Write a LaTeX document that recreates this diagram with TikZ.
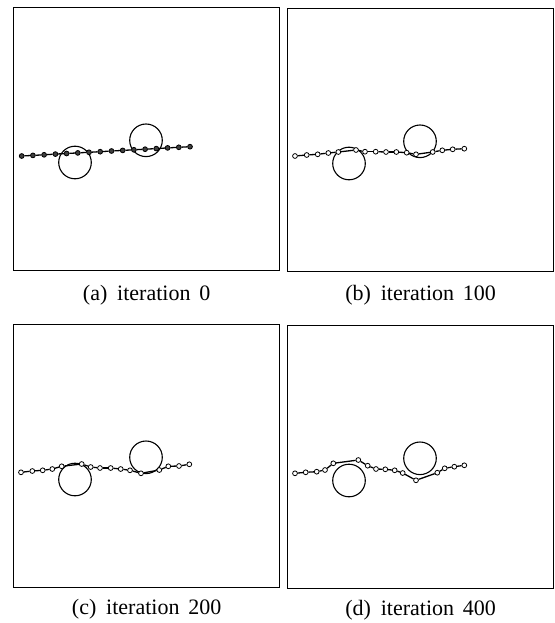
\documentclass[tikz,border=0pt]{standalone}
\usepackage{fontspec}
\setmainfont{Liberation Serif}
\usetikzlibrary{positioning}

\tikzset{
	panel/.style={draw, line width=1.3pt, minimum width=266pt, minimum height=263pt, inner sep=0pt, anchor=north west},
	obstacle/.style={circle, draw, line width=1.1pt, minimum size=32.6pt, inner sep=0pt},
	bead/.style={circle, draw, fill=white, line width=0.8pt, minimum size=4.8pt, inner sep=0pt},
	chain/.style={line width=1.3pt},
	caption/.style={font=\fontsize{22}{24}\selectfont, inner sep=0pt}
}

\begin{document}
\begin{tikzpicture}[x=1pt, y=-1pt]
	\useasboundingbox (0,0) rectangle (554,623);
	% (a) iteration 0
	\begin{scope}[shift={(13,7)}]
		\node[panel] (fa) at (0,0) {};
		\node[obstacle] (a-c1) at (62,155.5) {};
		\node[obstacle] (a-c2) at (133,133.3) {};
		\foreach \x/\y [count=\i] in {8.7/149, 19.9/148.4, 31.1/147.8, 42.4/147.1, 53.6/146.5, 64.8/145.9, 76.0/145.3, 87.2/144.7, 98.5/144.0, 109.7/143.4, 120.9/142.8, 132.1/142.2, 143.3/141.6, 154.6/140.9, 165.8/140.3, 177.0/139.7}
			\node[bead, fill=black!75] (a\i) at (\x,\y) {};
		\foreach \i [evaluate=\i as \j using int(\i+1)] in {1,...,15}
			\draw[chain] (a\i) -- (a\j);
		\node[caption, below=14pt of fa] (cap-a) {(a)\hspace{0.45em}iteration\hspace{0.4em}0};
	\end{scope}
	% (b) iteration 100
	\begin{scope}[shift={(287,8)}]
		\node[panel] (fb) at (0,0) {};
		\node[obstacle] (b-c1) at (62,155.5) {};
		\node[obstacle] (b-c2) at (133,133.3) {};
		\foreach \x/\y [count=\i] in {8/148, 19.7/147, 30.7/146.3, 41.3/145, 51.3/144, 69/142, 78/143.7, 88.7/143.7, 99/144, 109.3/144, 119.7/144.7, 129/146.3, 145.7/144, 155.3/142.3, 165.7/141.3, 177.3/140.7}
			\node[bead] (b\i) at (\x,\y) {};
		\foreach \i [evaluate=\i as \j using int(\i+1)] in {1,...,15}
			\draw[chain] (b\i) -- (b\j);
		\node[caption, below=13pt of fb] (cap-b) {(b)\hspace{0.45em}iteration\hspace{0.4em}100};
	\end{scope}
	% (c) iteration 200
	\begin{scope}[shift={(13,324)}]
		\node[panel] (fc) at (0,0) {};
		\node[obstacle] (c-c1) at (62,155.5) {};
		\node[obstacle] (c-c2) at (133,133.3) {};
		\foreach \x/\y [count=\i] in {8/148.3, 19.3/147, 29.7/146.3, 39.3/145, 48.7/142.3, 68.7/140, 77.7/143, 87/144, 97.7/144, 107.7/145, 117/146.3, 128/149.3, 146.3/146, 155.3/142.3, 166/142, 176.3/140.3}
			\node[bead] (c\i) at (\x,\y) {};
		\foreach \i [evaluate=\i as \j using int(\i+1)] in {1,...,15}
			\draw[chain] (c\i) -- (c\j);
		\node[caption, below=11pt of fc] (cap-c) {(c)\hspace{0.45em}iteration\hspace{0.4em}200};
	\end{scope}
	% (d) iteration 400
	\begin{scope}[shift={(287,325)}]
		\node[panel] (fd) at (0,0) {};
		\node[obstacle] (d-c1) at (62,155.5) {};
		\node[obstacle] (d-c2) at (133,133.3) {};
		\foreach \x/\y [count=\i] in {8/148.3, 18.7/147.3, 29.7/146.7, 38/145, 46.3/138.3, 71.3/135, 80.7/140.7, 89/144, 98.3/144.3, 107.7/145.3, 115.7/148, 129/155.3, 150.3/147.7, 157.7/143.3, 167.3/141.7, 177.3/140.3}
			\node[bead] (d\i) at (\x,\y) {};
		\foreach \i [evaluate=\i as \j using int(\i+1)] in {1,...,15}
			\draw[chain] (d\i) -- (d\j);
		\node[caption, below=11pt of fd] (cap-d) {(d)\hspace{0.45em}iteration\hspace{0.4em}400};
	\end{scope}
\end{tikzpicture}
\end{document}
